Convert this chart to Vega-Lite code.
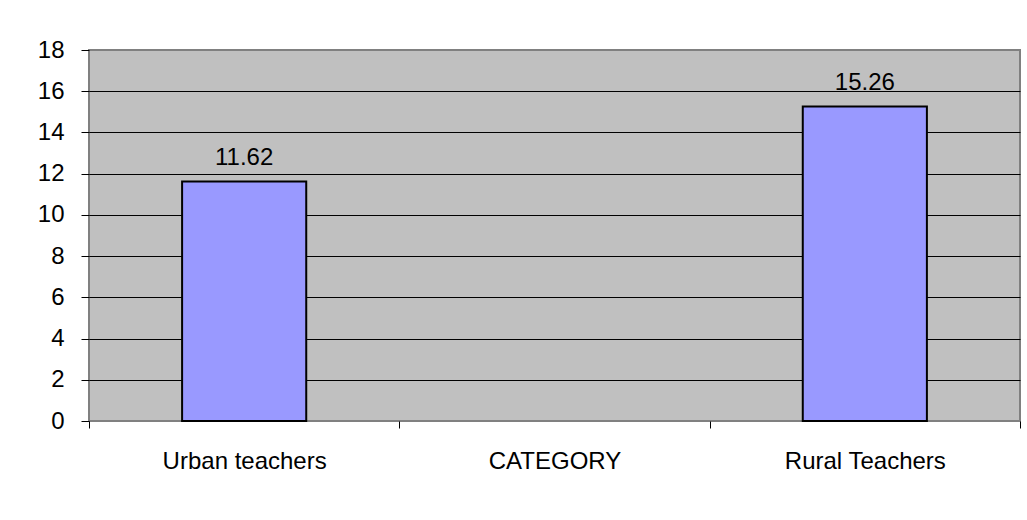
{
  "$schema": "https://vega.github.io/schema/vega-lite/v6.json",
  "width": 931,
  "height": 371,
  "autosize": "none",
  "padding": {"left": 89, "top": 50, "right": 7, "bottom": 99},
  "background": "white",
  "config": {
    "font": "Liberation Sans",
    "view": {"fill": "#C0C0C0", "stroke": "#808080", "strokeWidth": 2}
  },
  "data": {
    "values": [
      {"category": "Urban teachers", "value": 11.62},
      {"category": "CATEGORY", "value": null},
      {"category": "Rural Teachers", "value": 15.26}
    ]
  },
  "encoding": {
    "x": {
      "field": "category",
      "type": "nominal",
      "sort": null,
      "scale": {"domain": ["Urban teachers", "CATEGORY", "Rural Teachers"], "paddingInner": 0, "paddingOuter": 0},
      "axis": {
        "title": null,
        "labelAngle": 0,
        "labelFontSize": 24,
        "labelColor": "#000",
        "labelPadding": 21,
        "tickSize": 7,
        "tickColor": "#000",
        "tickBand": "extent",
        "domain": false,
        "grid": false
      }
    },
    "y": {
      "field": "value",
      "type": "quantitative",
      "scale": {"domain": [0, 18], "nice": false},
      "axis": {
        "title": null,
        "values": [0, 2, 4, 6, 8, 10, 12, 14, 16, 18],
        "labelFontSize": 24,
        "labelColor": "#000",
        "labelPadding": 17,
        "tickSize": 8,
        "tickColor": "#000",
        "domain": false,
        "grid": true,
        "gridColor": {"condition": {"test": "datum.value === 18 || datum.value === 0", "value": "#808080"}, "value": "#000"},
        "gridWidth": 1
      }
    }
  },
  "layer": [
    {
      "mark": {"type": "bar", "fill": "#9999FF", "stroke": "#000", "strokeWidth": 2, "width": {"band": 0.4}}
    },
    {
      "transform": [{"filter": "datum.value != null"}],
      "mark": {"type": "text", "dy": -16, "fontSize": 24, "baseline": "alphabetic", "color": "#000"},
      "encoding": {"text": {"field": "value", "type": "quantitative", "format": ".2f"}}
    }
  ]
}
